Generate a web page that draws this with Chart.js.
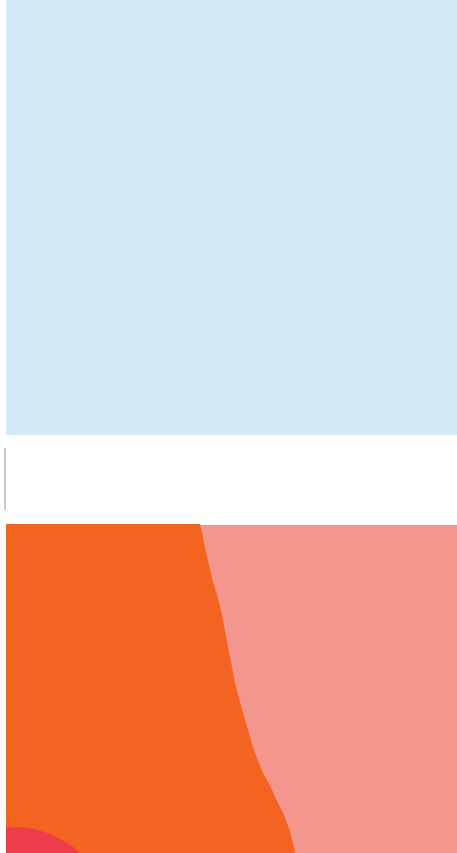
<!DOCTYPE html>
<html>
<head>
<meta charset="utf-8">
<script src="https://cdn.jsdelivr.net/npm/chart.js@4"></script>
<style>
  body { margin: 0; background: #fff; }
  #wrap { width: 457px; height: 853px; position: relative; }
</style>
</head>
<body>
<div id="wrap"><canvas id="shapes"></canvas></div>
<script>
// top panel (light blue block)
var panelX = [6, 457, 457, 6, 6];
var panelY = [0, 0, 435, 435, 0];

// small grey rule at the left, between the blocks
var ruleX = [5, 5];
var ruleY = [448, 510];

// pink block behind the orange one
var pinkX = [6, 457, 457, 6, 6];
var pinkY = [525, 525, 853, 853, 525];

// orange block, its right edge is the curve
var orangeX = [6, 200, 203, 205, 209, 213, 218, 222, 225, 228, 232, 235, 239, 243, 248, 253, 258, 263, 268, 272, 276, 280, 284, 287, 290, 292, 294, 295, 6, 6];
var orangeY = [524, 524, 537, 548, 565, 582, 598, 615, 631, 648, 667, 683, 698, 713, 730, 747, 761, 773, 782, 790, 799, 807, 815, 823, 831, 840, 847, 853, 853, 524];

// red arc in the bottom left corner
var redX = [6, 6, 20, 35, 50, 62, 72, 80, 6];
var redY = [853, 828, 827, 829, 834, 840, 846, 853, 853];

function pts(xs, ys) {
    var out = [];
    for (var i = 0; i < xs.length; i++) {
        out.push({x: xs[i], y: ys[i]});
    }
    return out;
}

function area(xs, ys, color) {
    return {
        data: pts(xs, ys),
        backgroundColor: color,
        borderColor: color,
        borderWidth: 0,
        pointRadius: 0,
        tension: 0,
        fill: 'shape'
    };
}

var ctx = document.getElementById('shapes').getContext('2d');

var chart = new Chart(ctx, {
    type: 'line',
    data: {
        datasets: [
            area(redX, redY, '#ee3d4a'),
            area(orangeX, orangeY, '#f2641f'),
            area(pinkX, pinkY, '#f4968e'),
            area(panelX, panelY, '#d3e9f6'),
            {
                data: pts(ruleX, ruleY),
                borderColor: '#c9c9c9',
                borderWidth: 2,
                pointRadius: 0,
                fill: false
            }
        ]
    },
    options: {
        responsive: true,
        maintainAspectRatio: false,
        animation: false,
        layout: { padding: 0 },
        plugins: {
            legend: { display: false },
            tooltip: { enabled: false }
        },
        scales: {
            x: { type: 'linear', min: 0, max: 457, display: false },
            y: { type: 'linear', min: 0, max: 853, reverse: true, display: false }
        }
    }
});
</script>
</body>
</html>
